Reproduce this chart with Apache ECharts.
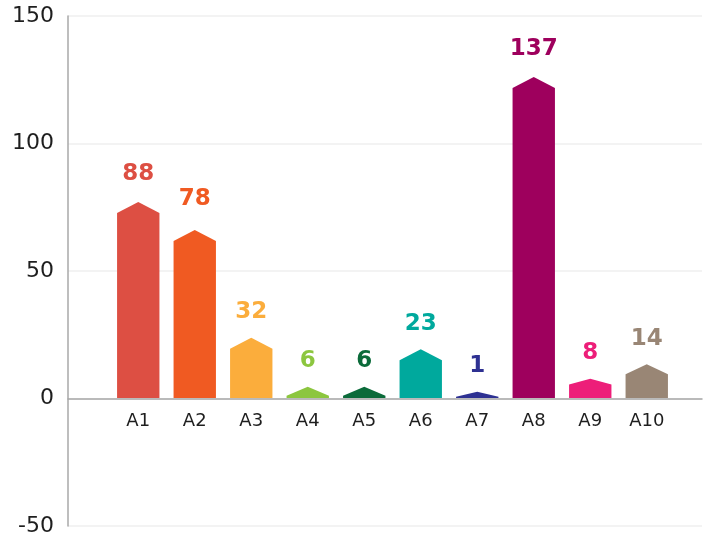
<!DOCTYPE html>
<html>
<head>
<meta charset="utf-8">
<script src="https://cdn.jsdelivr.net/npm/echarts@6/dist/echarts.min.js"></script>
<style>
  html, body { margin: 0; padding: 0; background: #fff; }
  #chart { width: 709px; height: 540px; }
</style>
</head>
<body>
<div id="chart"></div>
<script>
const categories = ["A1", "A2", "A3", "A4", "A5", "A6", "A7", "A8", "A9", "A10"];
// bar heights as drawn (peak of the arrow), in axis units
const barValues = [77, 66, 23.7, 4.4, 4.4, 19.1, 2.5, 126, 7.6, 13.3];
// numbers printed above the bars
const barLabels = [88, 78, 32, 6, 6, 23, 1, 137, 8, 14];
const yTicks = [-50, 0, 50, 100, 150];

const palette = ["#dd4f43", "#f05a22", "#fbad3c", "#8cc63f", "#0b6b3a",
                 "#00a99d", "#2e3192", "#9e005d", "#ed1e79", "#998675"];
const font = "'DejaVu Sans', sans-serif";

const chart = echarts.init(document.getElementById("chart"));

function renderArrow(params, api) {
  const idx = api.value(0);
  const value = api.value(1);
  const label = api.value(2);
  const base = api.coord([idx, 0]);
  const tip = api.coord([idx, value]);
  const half = api.size([1, 0])[0] * 0.375;
  const h = base[1] - tip[1];
  const cap = h < 15 ? h * 0.8 : Math.min(11, h * 0.3);
  const color = palette[params.dataIndex];
  const textPos = api.coord([idx, Math.max(label, value + 10)]);
  return {
    type: "group",
    children: [
      {
        type: "polygon",
        shape: {
          points: [
            [base[0] - half, base[1]],
            [base[0] - half, tip[1] + cap],
            [base[0], tip[1]],
            [base[0] + half, tip[1] + cap],
            [base[0] + half, base[1]]
          ]
        },
        style: { fill: color }
      },
      {
        type: "text",
        x: textPos[0],
        y: textPos[1],
        style: {
          text: String(label),
          fill: color,
          font: "bold 23px " + font,
          align: "center",
          verticalAlign: "middle"
        }
      }
    ]
  };
}

chart.setOption({
  animation: false,
  backgroundColor: "#fff",
  grid: [
    // full plot: y axis, split lines and the zero line
    { left: 68, right: 7, top: 16, bottom: 14, containLabel: false, outerBoundsMode: "none" },
    // upper half only (0..150), holds the bars and category labels
    { left: 110, right: 34, top: 16, bottom: 142, containLabel: false, outerBoundsMode: "none" }
  ],
  xAxis: [
    {
      gridIndex: 0,
      type: "value",
      min: 0,
      max: 1,
      axisLine: { show: true, onZero: true, lineStyle: { color: "#a8a8a8", width: 1.5 } },
      axisTick: { show: false },
      axisLabel: { show: false },
      splitLine: { show: false }
    },
    {
      gridIndex: 1,
      type: "category",
      data: categories,
      axisLine: { show: false },
      axisTick: { show: false },
      axisLabel: { color: "#1e1e1e", fontSize: 18, fontFamily: font, margin: 14 }
    }
  ],
  yAxis: [
    {
      gridIndex: 0,
      type: "value",
      min: yTicks[0],
      max: yTicks[yTicks.length - 1],
      interval: 50,
      axisLine: { show: true, lineStyle: { color: "#a8a8a8", width: 1.5 } },
      axisTick: { show: false },
      axisLabel: { color: "#1e1e1e", fontSize: 22, fontFamily: font, margin: 14 },
      splitLine: { lineStyle: { color: "#efefef", width: 1.5 } }
    },
    {
      gridIndex: 1,
      type: "value",
      min: 0,
      max: yTicks[yTicks.length - 1],
      show: false
    }
  ],
  series: [
    {
      type: "custom",
      xAxisIndex: 1,
      yAxisIndex: 1,
      renderItem: renderArrow,
      clip: false,
      encode: { x: 0, y: 1 },
      data: barValues.map((v, i) => [i, v, barLabels[i]])
    }
  ]
});
</script>
</body>
</html>
